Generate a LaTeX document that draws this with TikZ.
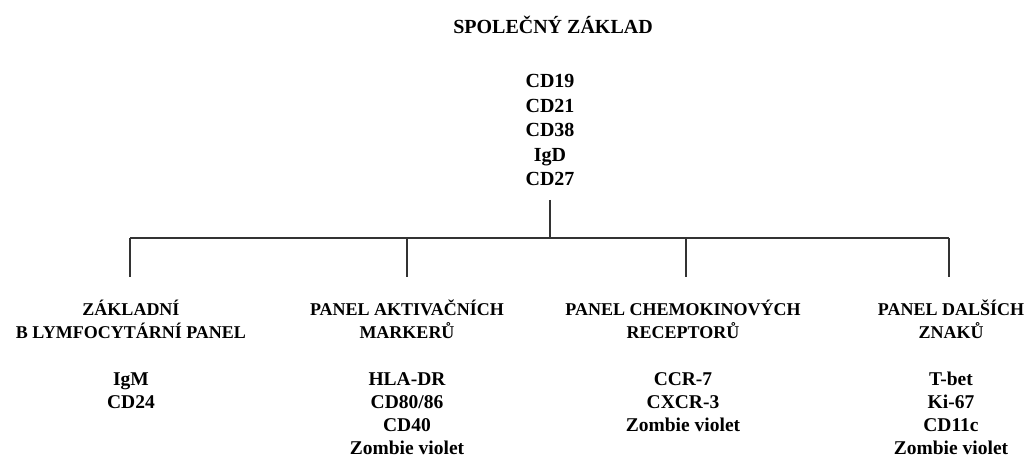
\documentclass[tikz,border=0pt]{standalone}
\usepackage{fontspec}
\setmainfont{Liberation Serif}
\begin{document}
\begin{tikzpicture}[x=1pt,y=-1pt,
  big/.style={inner sep=0pt,anchor=base,font=\bfseries\fontsize{20}{24}\selectfont},
  head/.style={inner sep=0pt,anchor=base,font=\bfseries\fontsize{18}{21}\selectfont},
  mk/.style={inner sep=0pt,anchor=base,font=\bfseries\fontsize{19.5}{24}\selectfont},
  conn/.style={line width=1.8pt,draw=black!80}]
\useasboundingbox (0,0) rectangle (1029,457);
% top
\node[big] (title) at (553,34) {SPOLEČNÝ ZÁKLAD};
\node[big] (m1) at (550,88) {CD19};
\node[big] (m2) at (550,112.5) {CD21};
\node[big] (m3) at (550,137) {CD38};
\node[big] (m4) at (550,161.5) {IgD};
\node[big] (m5) at (550,186) {CD27};
% tree coordinates
\coordinate (stemtop) at (550,200);
\coordinate (bus) at (550,238);
\coordinate (b1) at (130,238);
\coordinate (b2) at (407,238);
\coordinate (b3) at (686,238);
\coordinate (b4) at (949,238);
\coordinate (d1) at (130,277);
\coordinate (d2) at (407,277);
\coordinate (d3) at (686,277);
\coordinate (d4) at (949,277);
\draw[conn] (stemtop) -- (bus);
\draw[conn] (b1) -- (b4);
\draw[conn] (b1) -- (d1);
\draw[conn] (b2) -- (d2);
\draw[conn] (b3) -- (d3);
\draw[conn] (b4) -- (d4);
% panel 1
\node[head] (h1a) at (131,316) {ZÁKLADNÍ};
\node[head] (h1b) at (131,338) {B LYMFOCYTÁRNÍ PANEL};
\node[mk] (p1a) at (131,385) {IgM};
\node[mk] (p1b) at (131,408.5) {CD24};
% panel 2
\node[head] (h2a) at (407,316) {PANEL AKTIVAČNÍCH};
\node[head] (h2b) at (407,338) {MARKERŮ};
\node[mk] (p2a) at (407,385) {HLA-DR};
\node[mk] (p2b) at (407,408.5) {CD80/86};
\node[mk] (p2c) at (407,431.5) {CD40};
\node[mk] (p2d) at (407,454) {Zombie violet};
% panel 3
\node[head] (h3a) at (683,316) {PANEL CHEMOKINOVÝCH};
\node[head] (h3b) at (683,338) {RECEPTORŮ};
\node[mk] (p3a) at (683,385) {CCR-7};
\node[mk] (p3b) at (683,408.5) {CXCR-3};
\node[mk] (p3c) at (683,431.5) {Zombie violet};
% panel 4
\node[head] (h4a) at (951,316) {PANEL DALŠÍCH};
\node[head] (h4b) at (951,338) {ZNAKŮ};
\node[mk] (p4a) at (951,385) {T-bet};
\node[mk] (p4b) at (951,408.5) {Ki-67};
\node[mk] (p4c) at (951,431.5) {CD11c};
\node[mk] (p4d) at (951,454) {Zombie violet};
\end{tikzpicture}
\end{document}
